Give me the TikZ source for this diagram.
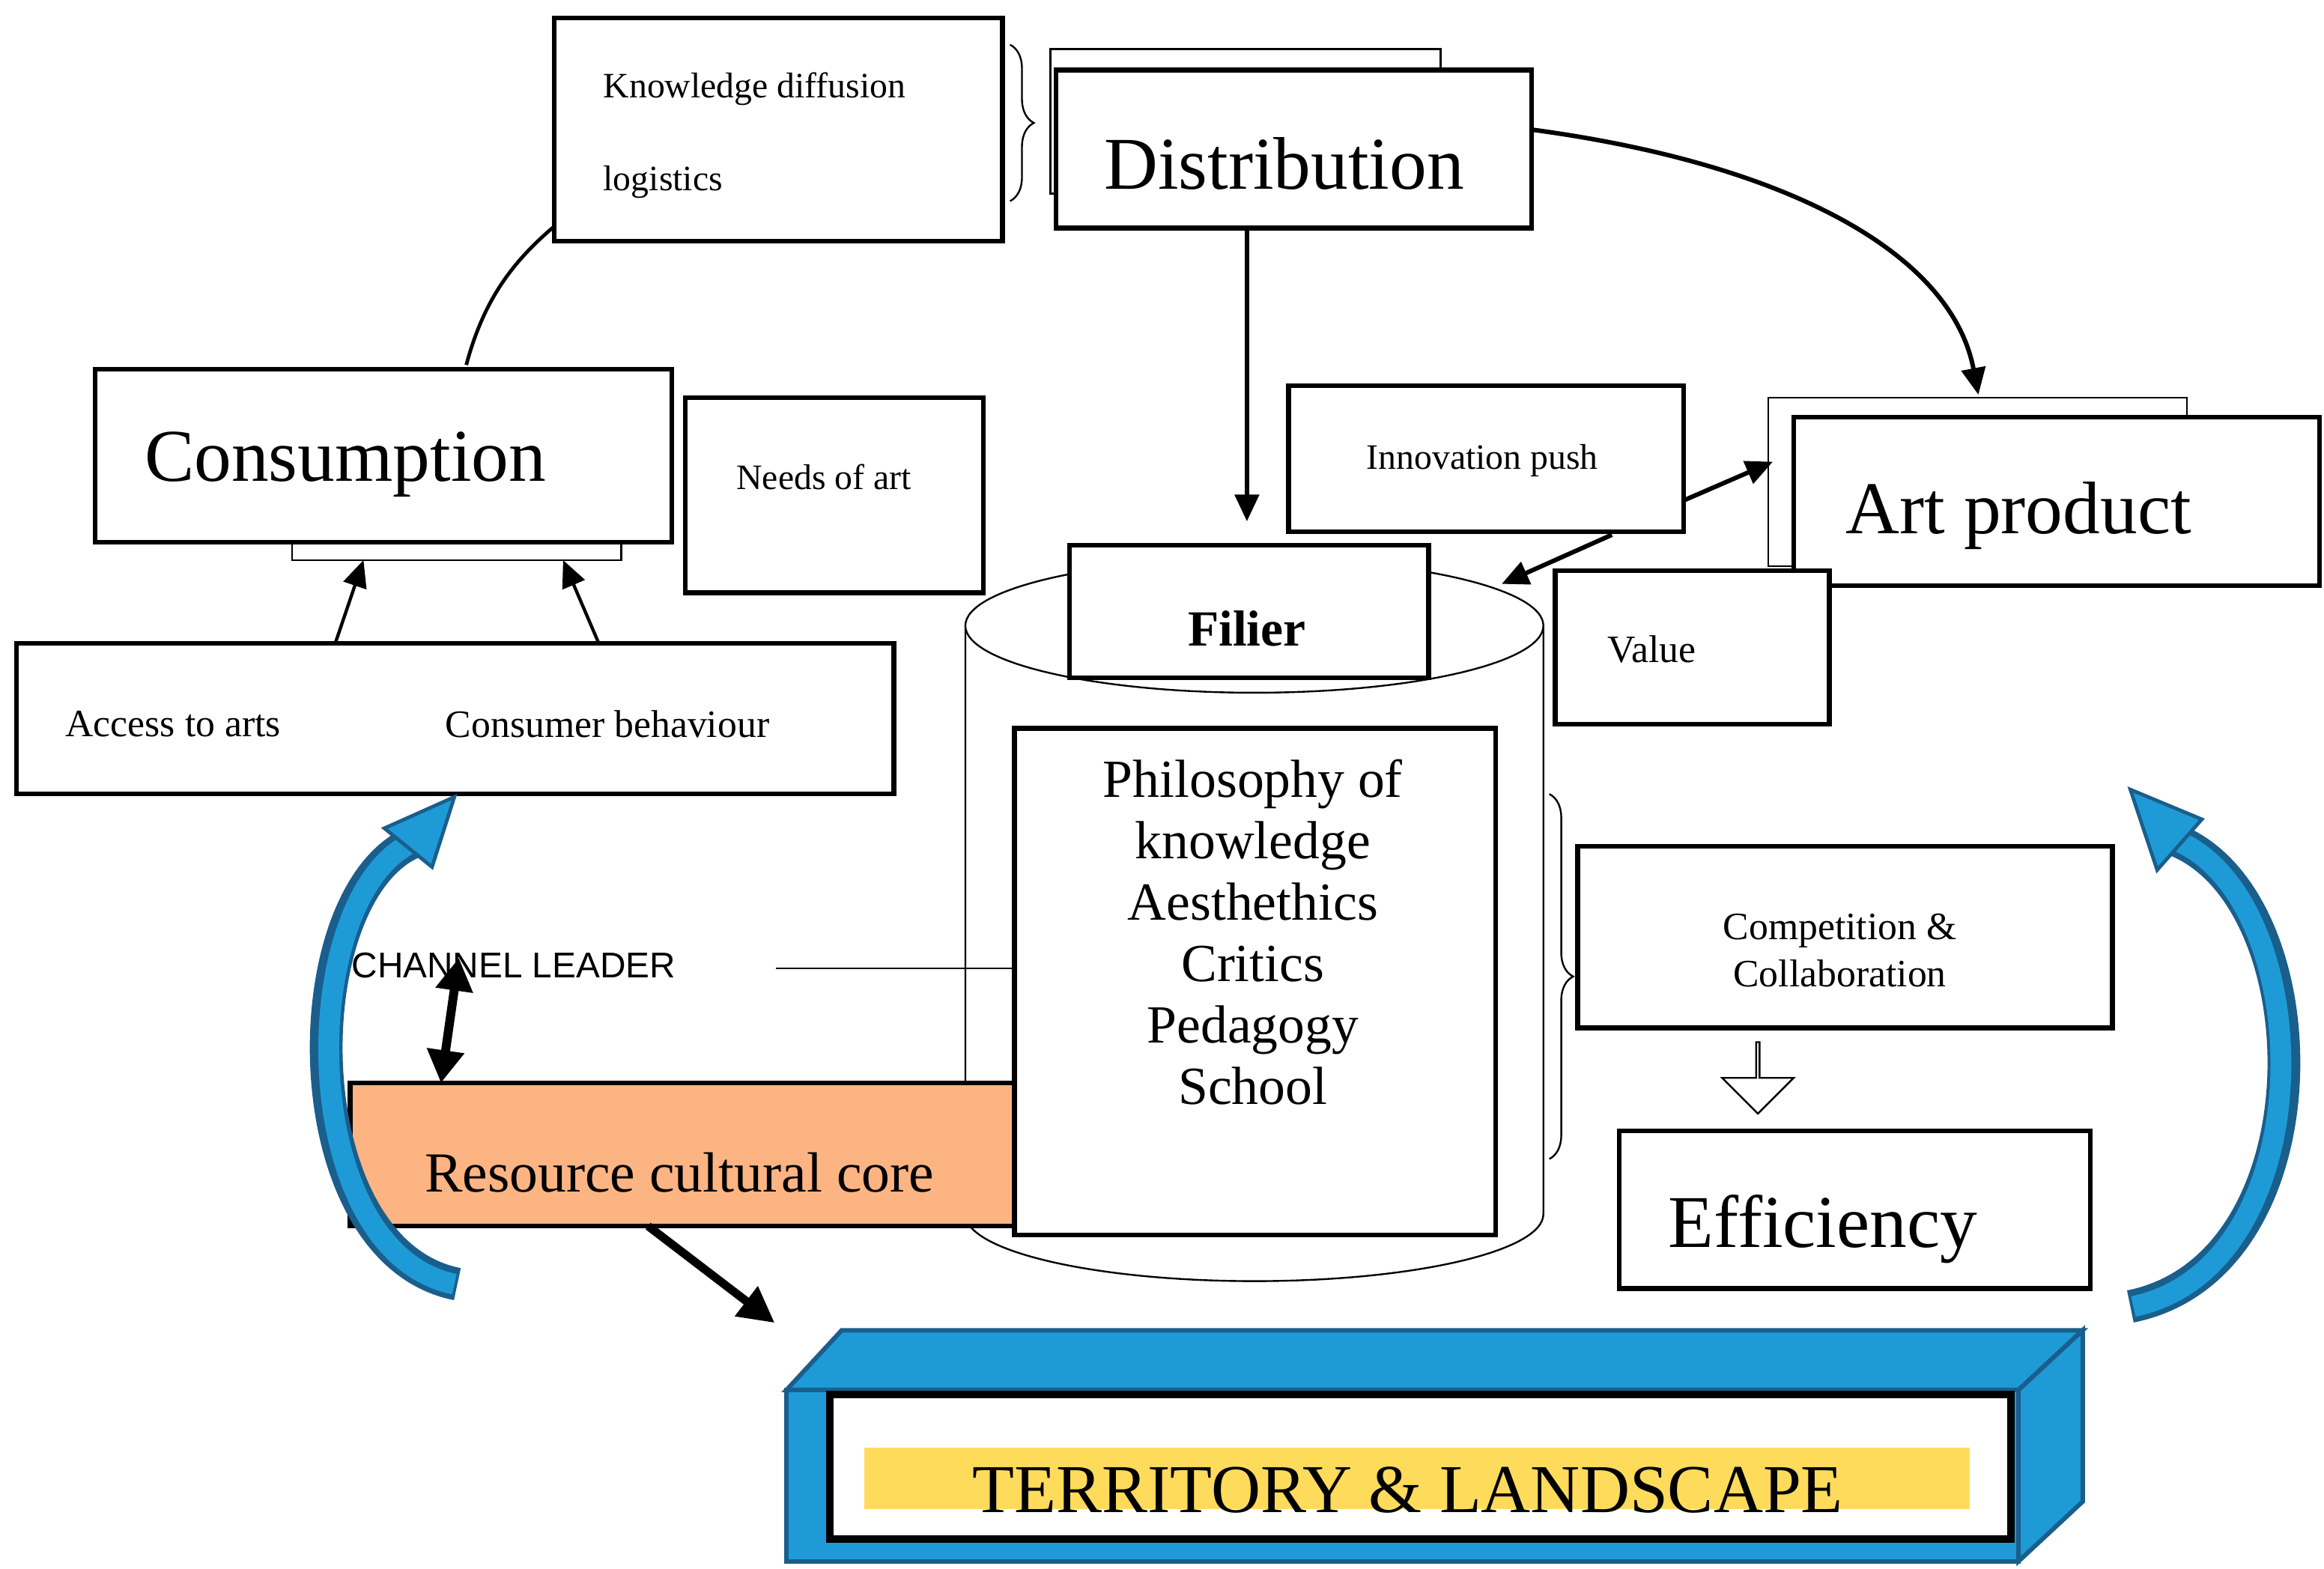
\documentclass[tikz,border=0pt]{standalone}
\usepackage{fontspec}
\setmainfont{Liberation Serif}
\newfontfamily\sansf{Liberation Sans}
\usetikzlibrary{arrows.meta,decorations.pathreplacing,shapes.arrows}
\definecolor{orng}{HTML}{FDB483}
\definecolor{bblue}{HTML}{1E9BD7}
\definecolor{dblue}{HTML}{1A5E8C}
\definecolor{ylw}{HTML}{FFDB5C}
\newcommand{\fs}[1]{\fontsize{#1pt}{1.2\dimexpr #1pt\relax}\selectfont}
\begin{document}
\begin{tikzpicture}[x=0.5pt,y=-0.5pt,
 thk/.style={draw,line width=1.6pt},
 thn/.style={draw,line width=0.6pt},
 arr/.style={line width=1.5pt,-{Triangle[length=9pt,width=8pt]}},
 barr/.style={line width=2.8pt,-{Triangle[length=12pt,width=12pt]}}]
\useasboundingbox (0,0) rectangle (1560,1053);
% Knowledge
\draw[thk] (372,12) rectangle (673,162);
\node[anchor=west,font=\fs{12}] (kd) at (398,60) {Knowledge diffusion};
\node[anchor=west,font=\fs{12}] (lg) at (398,122) {logistics};
\draw[thn,decorate,decoration={brace,amplitude=8pt}] (678,30) -- (678,135);
% Distribution
\draw[thn] (705,33) rectangle (967,130);
\draw[thk,fill=white] (709,47) rectangle (1028,153);
\node[font=\fs{25}] (dist) at (862,110) {Distribution};
\coordinate (distb) at (837,153);
% Consumption
\draw[thn] (196,364) rectangle (417,376);
\draw[thk,fill=white] (64,248) rectangle (451,364);
\node[font=\fs{25},anchor=west] (cons) at (90,312) {Consumption};
\draw[line width=1.2pt] (313,245) .. controls (325,200) and (345,175) .. (372,152);
% Needs
\draw[thk] (460,267) rectangle (660,398);
\node[font=\fs{12}] (needs) at (553,320) {Needs of art};
% Cylinder
\draw[thn,fill=white] (648,420) -- (648,815) arc[start angle=180,end angle=0,x radius=194,y radius=45] -- (1036,420);
\draw[thn,fill=white] (842,420) ellipse[x radius=194,y radius=45];
\draw[thk,fill=white] (718,366) rectangle (959,455);
\node[font=\bfseries\fs{17}] (filier) at (837,422) {Filier};
\draw[arr] (distb) -- (837,350);
% Philosophy
\draw[thk,fill=white] (681,489) rectangle (1004,829);
\node[font=\fs{18},align=center,anchor=north] (phil) at (841,503) {Philosophy of\\[-1pt]knowledge\\[-1pt]Aesthethics\\[-1pt]Critics\\[-1pt]Pedagogy\\[-1pt]School};
\draw[thn,decorate,decoration={brace,amplitude=8pt}] (1040,533) -- (1040,778);
% Art product
\draw[thn] (1187,267) rectangle (1468,380);
\draw[thk,fill=white] (1204,280) rectangle (1557,393);
\node[font=\fs{25},anchor=west] (art) at (1232,346) {Art product};
\draw[arr] (1028,87) .. controls (1200,110) and (1310,170) .. (1328,265);
% Innovation
\draw[thk,fill=white] (865,259) rectangle (1130,357);
\node[font=\fs{12}] (inn) at (995,309) {Innovation push};
\draw[arr] (1130,336) -- (1190,310);
\draw[arr] (1082,359) -- (1008,392);
% Value
\draw[thk,fill=white] (1044,383) rectangle (1228,486);
\node[font=\fs{13},anchor=west] (val) at (1072,436) {Value};
% Competition
\draw[thk] (1059,568) rectangle (1418,690);
\node[font=\fs{13},align=center] (comp) at (1235,638) {Competition \&\\Collaboration};
\node[single arrow,draw,line width=0.6pt,shape border rotate=270,minimum height=24pt,minimum width=24pt,single arrow head extend=6pt,inner sep=0pt] (harr) at (1180,723) {};
% Efficiency
\draw[thk] (1087,759) rectangle (1403,865);
\node[font=\fs{25},anchor=west] (eff) at (1113,825) {Efficiency};
% Access
\draw[thk] (11,432) rectangle (600,533);
\node[font=\fs{13},anchor=west] (acc) at (37,486) {Access to arts};
\node[font=\fs{13},anchor=west] (cb) at (292,486) {Consumer behaviour};
\draw[arr,line width=1.1pt] (225,432) -- (244,376);
\draw[arr,line width=1.1pt] (402,432) -- (378,376);
% Channel leader
\node[font=\sansf\fs{12},anchor=west] (cl) at (229,648) {CHANNEL LEADER};
\draw[thn] (521,650) -- (681,650);
\draw[line width=3pt,{Triangle[length=11pt,width=12pt]}-{Triangle[length=11pt,width=12pt]}] (308,643) -- (296,727);
% Resource
\draw[thk,fill=orng] (235,727) rectangle (681,823);
\node[font=\fs{19}] (res) at (456,787) {Resource cultural core};
\draw[barr] (435,823) -- (520,888);
% Blue arrows
\draw[dblue,line width=11pt] (307,862) .. controls (195,840) and (195,600) .. (278,565);
\draw[bblue,line width=7pt] (305,862) .. controls (197,840) and (198,600) .. (278,565);
\draw[dblue,fill=bblue,line width=1.2pt] (305,535) -- (290,582) -- (258,556) -- cycle;
\draw[dblue,line width=11pt] (1430,877) .. controls (1565,850) and (1560,600) .. (1458,563);
\draw[bblue,line width=7pt] (1432,877) .. controls (1562,850) and (1557,600) .. (1458,563);
\draw[dblue,fill=bblue,line width=1.2pt] (1430,530) -- (1478,550) -- (1448,584) -- cycle;
% Territory
\draw[dblue,fill=bblue,line width=1.5pt] (528,933) -- (565,893) -- (1398,893) -- (1355,933) -- cycle;
\draw[dblue,fill=bblue,line width=1.5pt] (1355,933) -- (1398,893) -- (1398,1008) -- (1355,1048) -- cycle;
\draw[dblue,fill=bblue,line width=1.5pt] (528,933) rectangle (1355,1048);
\draw[line width=2.5pt,fill=white] (557,936) rectangle (1350,1033);
\fill[ylw] (580,972) rectangle (1322,1013);
\node[font=\fs{23}] (terr) at (945,1000) {TERRITORY \& LANDSCAPE};
\end{tikzpicture}
\end{document}
